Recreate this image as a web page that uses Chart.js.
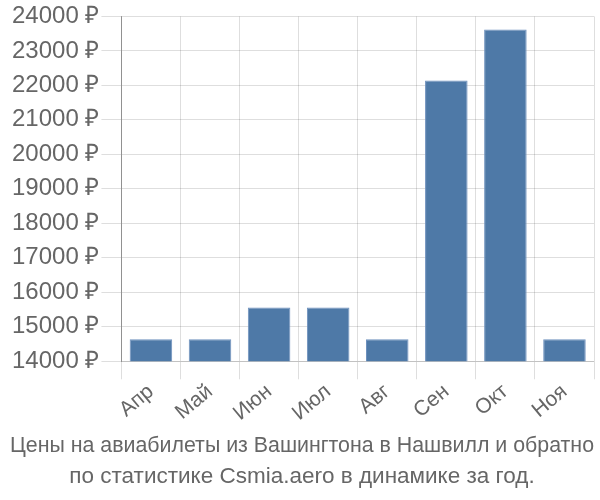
<!DOCTYPE html>
<html>
<head>
<meta charset="utf-8">
<script src="https://cdn.jsdelivr.net/npm/chart.js@4/dist/chart.umd.min.js"></script>
<style>
  html, body { margin: 0; padding: 0; background: #fff; }
  #wrap { width: 600px; height: 500px; }
</style>
</head>
<body>
<div id="wrap"><canvas id="myChart"></canvas></div>
<script>
var months = ['Апр', 'Май', 'Июн', 'Июл', 'Авг', 'Сен', 'Окт', 'Ноя'];
var prices = [14640, 14640, 15560, 15560, 14640, 22140, 23620, 14640];
var titleLines = [
  'Цены на авиабилеты из Вашингтона в Нашвилл и обратно',
  'по статистике Csmia.aero в динамике за год.'
];

Chart.defaults.font.family = '"Liberation Sans", Arial, sans-serif';
Chart.defaults.color = '#666';

var ctx = document.getElementById('myChart');
var myChart = new Chart(ctx, {
  type: 'bar',
  data: {
    labels: months,
    datasets: [{
      data: prices,
      backgroundColor: '#4e79a7',
      borderColor: 'rgba(110, 145, 190, 1)',
      borderWidth: 1
    }]
  },
  options: {
    responsive: true,
    maintainAspectRatio: false,
    animation: false,
    layout: { padding: { left: 10, right: 6, top: 1, bottom: 0 } },
    plugins: {
      legend: { display: false },
      tooltip: { enabled: false },
      title: {
        display: true,
        position: 'bottom',
        text: titleLines,
        color: '#666',
        font: { size: 22.5, weight: 'normal', lineHeight: 1.4 },
        padding: { top: 4, bottom: 7 }
      }
    },
    scales: {
      x: {
        grid: { color: 'rgba(0,0,0,0.13)', tickLength: 18 },
        border: { color: 'rgba(0,0,0,0.13)' },
        ticks: { font: { size: 21 }, maxRotation: 40, minRotation: 40, padding: 0 }
      },
      y: {
        min: 14000,
        max: 24000,
        grid: { color: 'rgba(0,0,0,0.13)', tickLength: 20 },
        border: { color: 'rgba(0,0,0,0.35)' },
        ticks: {
          stepSize: 1000,
          font: { size: 24 },
          padding: 2,
          callback: function (v) { return v + ' ₽'; }
        }
      }
    }
  }
});
</script>
</body>
</html>
